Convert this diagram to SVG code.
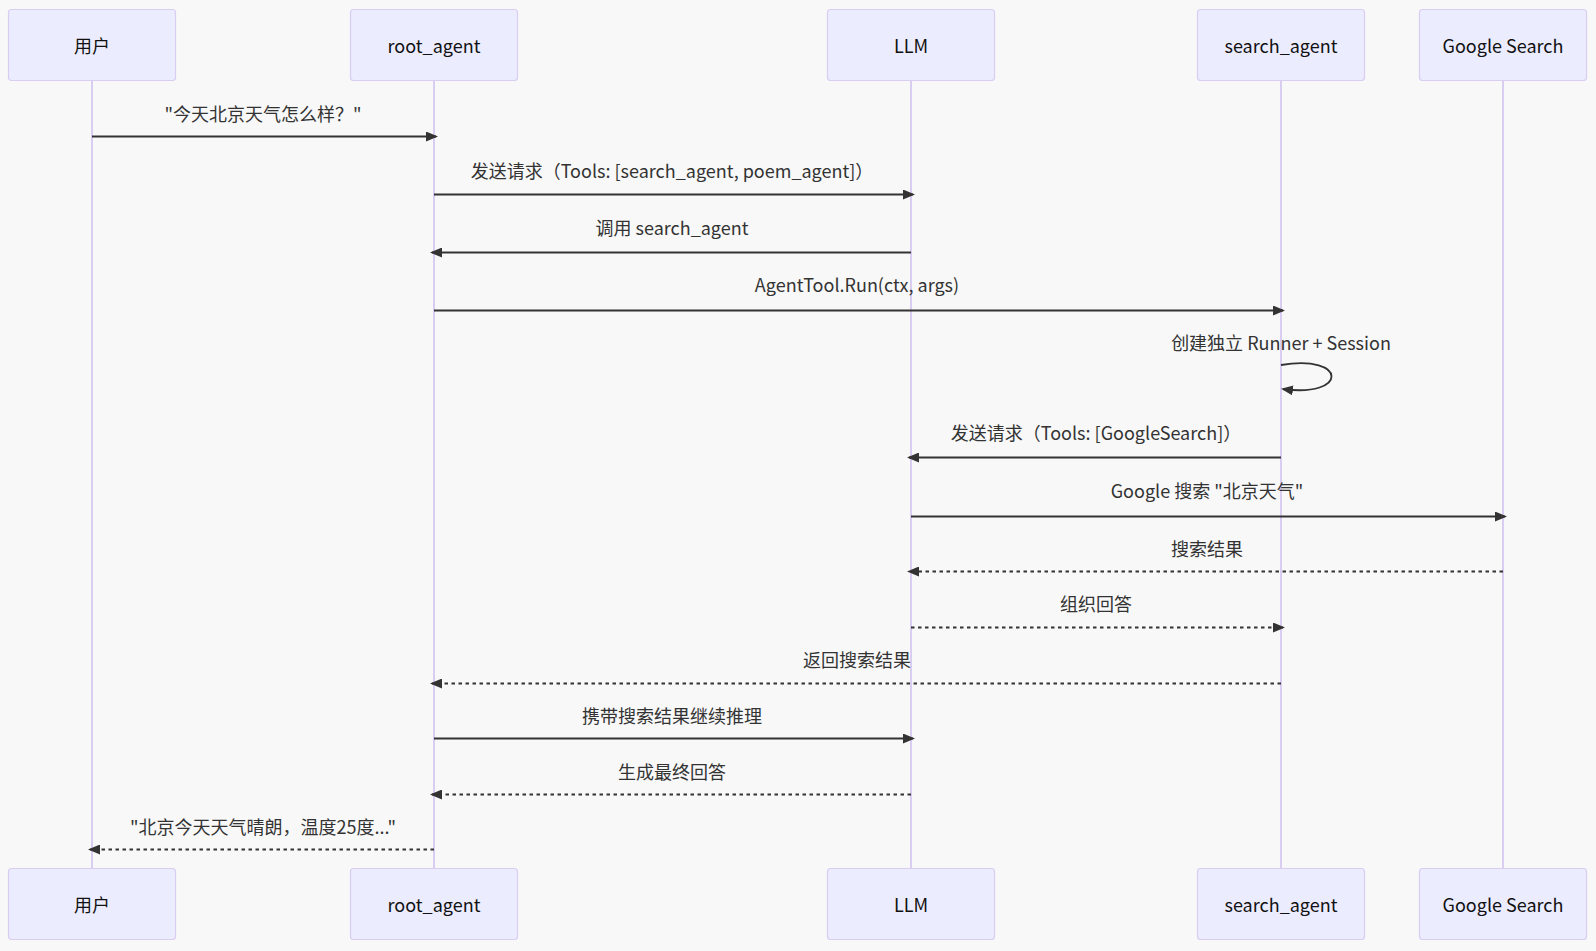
<svg xmlns="http://www.w3.org/2000/svg" width="1596" height="951" viewBox="0 0 1596 951">
<style>
.bg{fill:#F8F8F8}
.actor{fill:#ECECFF;stroke:#D9CDF2;stroke-width:1.2}
.life{stroke:#D9CDF2;stroke-width:2;fill:none}
.atext{font-family:"Noto Sans CJK SC","Noto Sans",sans-serif;font-size:18px;fill:#111;text-anchor:middle;dominant-baseline:central}
.mtext{font-family:"Noto Sans CJK SC","Noto Sans",sans-serif;font-size:18px;fill:#333;text-anchor:middle;dominant-baseline:central}
.msg{stroke:#333;stroke-width:1.8;fill:none}
.dash{stroke-dasharray:3.5,3.5}
</style>
<defs>
<marker id="ah" viewBox="0 0 12 10" markerWidth="12" markerHeight="10" refX="10" refY="5" orient="auto" markerUnits="userSpaceOnUse">
<path d="M0,0 L12,5 L0,10 z" fill="#333"/>
</marker>
</defs>
<rect class="bg" x="0" y="0" width="1596" height="951"/>
<g id="lifelines">
<line class="life" x1="92" y1="81" x2="92" y2="868"/>
<line class="life" x1="434" y1="81" x2="434" y2="868"/>
<line class="life" x1="911" y1="81" x2="911" y2="868"/>
<line class="life" x1="1281" y1="81" x2="1281" y2="868"/>
<line class="life" x1="1503" y1="81" x2="1503" y2="868"/>
</g>
<g id="actor-user">
<rect class="actor" x="8.5" y="9.5" width="167" height="71" rx="3"/>
<text class="atext" x="92" y="45">用户</text>
<rect class="actor" x="8.5" y="868.5" width="167" height="71" rx="3"/>
<text class="atext" x="92" y="904">用户</text>
</g>
<g id="actor-root">
<rect class="actor" x="350.5" y="9.5" width="167" height="71" rx="3"/>
<text class="atext" x="434" y="45">root_agent</text>
<rect class="actor" x="350.5" y="868.5" width="167" height="71" rx="3"/>
<text class="atext" x="434" y="904">root_agent</text>
</g>
<g id="actor-llm">
<rect class="actor" x="827.5" y="9.5" width="167" height="71" rx="3"/>
<text class="atext" x="911" y="45">LLM</text>
<rect class="actor" x="827.5" y="868.5" width="167" height="71" rx="3"/>
<text class="atext" x="911" y="904">LLM</text>
</g>
<g id="actor-search">
<rect class="actor" x="1197.5" y="9.5" width="167" height="71" rx="3"/>
<text class="atext" x="1281" y="45">search_agent</text>
<rect class="actor" x="1197.5" y="868.5" width="167" height="71" rx="3"/>
<text class="atext" x="1281" y="904">search_agent</text>
</g>
<g id="actor-google">
<rect class="actor" x="1419.5" y="9.5" width="167" height="71" rx="3"/>
<text class="atext" x="1503" y="45">Google Search</text>
<rect class="actor" x="1419.5" y="868.5" width="167" height="71" rx="3"/>
<text class="atext" x="1503" y="904">Google Search</text>
</g>
<g id="connectors">
<line class="msg" x1="92" y1="136.5" x2="436" y2="136.5" marker-end="url(#ah)"/>
<line class="msg" x1="434" y1="194.5" x2="913" y2="194.5" marker-end="url(#ah)"/>
<line class="msg" x1="911" y1="252.5" x2="432" y2="252.5" marker-end="url(#ah)"/>
<line class="msg" x1="434" y1="310.5" x2="1283" y2="310.5" marker-end="url(#ah)"/>
<path class="msg" d="M1281,365 C1348,354 1348,398 1283,389" marker-end="url(#ah)"/>
<line class="msg" x1="1281" y1="457.5" x2="909" y2="457.5" marker-end="url(#ah)"/>
<line class="msg" x1="911" y1="516.5" x2="1505" y2="516.5" marker-end="url(#ah)"/>
<line class="msg dash" x1="1503" y1="571.5" x2="909" y2="571.5" marker-end="url(#ah)"/>
<line class="msg dash" x1="911" y1="627.5" x2="1283" y2="627.5" marker-end="url(#ah)"/>
<line class="msg dash" x1="1281" y1="683.5" x2="432" y2="683.5" marker-end="url(#ah)"/>
<line class="msg" x1="434" y1="738.5" x2="913" y2="738.5" marker-end="url(#ah)"/>
<line class="msg dash" x1="911" y1="794.5" x2="432" y2="794.5" marker-end="url(#ah)"/>
<line class="msg dash" x1="434" y1="849.5" x2="90" y2="849.5" marker-end="url(#ah)"/>
</g>
<g id="labels">
<text class="mtext" x="263" y="113">"今天北京天气怎么样？"</text>
<text class="mtext" x="672" y="170">发送请求（Tools: [search_agent, poem_agent]）</text>
<text class="mtext" x="672" y="227">调用 search_agent</text>
<text class="mtext" x="857" y="284">AgentTool.Run(ctx, args)</text>
<text class="mtext" x="1281" y="342">创建独立 Runner + Session</text>
<text class="mtext" x="1096" y="432">发送请求（Tools: [GoogleSearch]）</text>
<text class="mtext" x="1207" y="490">Google 搜索 "北京天气"</text>
<text class="mtext" x="1207" y="548">搜索结果</text>
<text class="mtext" x="1096" y="603">组织回答</text>
<text class="mtext" x="857" y="659">返回搜索结果</text>
<text class="mtext" x="672" y="715">携带搜索结果继续推理</text>
<text class="mtext" x="672" y="771">生成最终回答</text>
<text class="mtext" x="263" y="826">"北京今天天气晴朗，温度25度..."</text>
</g>
</svg>
